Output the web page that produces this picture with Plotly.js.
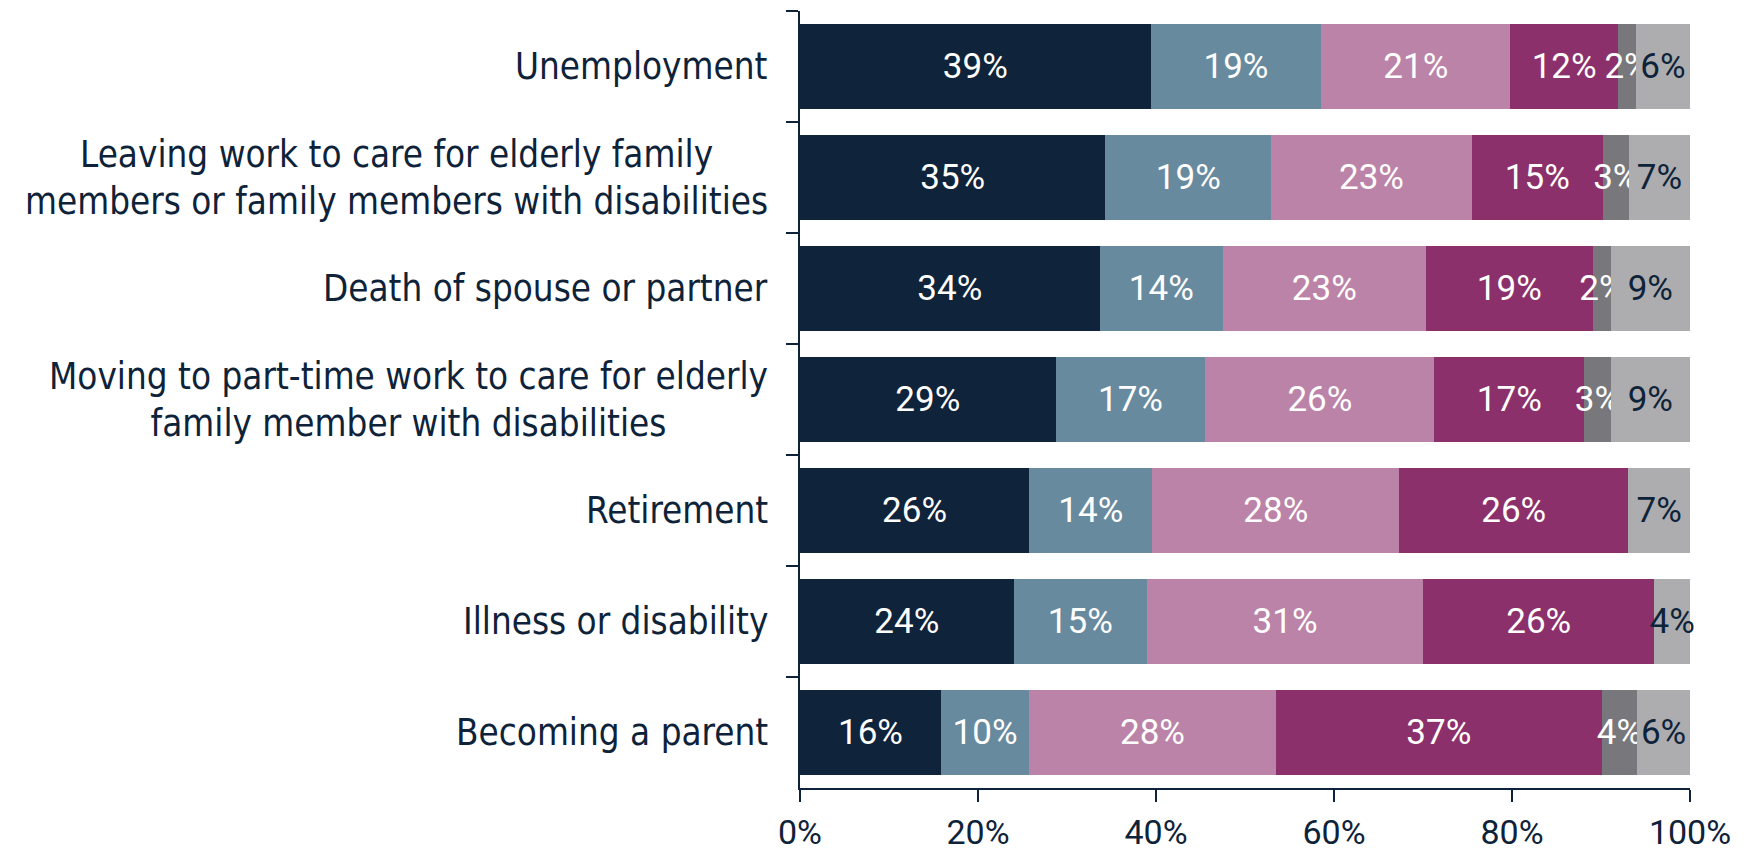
<!DOCTYPE html>
<html>
<head>
<meta charset="utf-8">
<script src="https://cdn.plot.ly/plotly-3.0.1.min.js"></script>
<style>html,body{margin:0;padding:0;background:#fff;}#chart{width:1746px;height:852px;}</style>
</head>
<body>
<div id="chart"></div>
<script>
// Categories, top to bottom
const categories = [
  "Unemployment",
  "Leaving work to care for elderly family<br>members or family members with disabilities",
  "Death of spouse or partner",
  "Moving to part-time work to care for elderly<br>family member with disabilities",
  "Retirement",
  "Illness or disability",
  "Becoming a parent"
];

// Series values (percent, as labelled; bars are normalised to 100%)
const series1 = [39, 35, 34, 29, 26, 24, 16];
const series2 = [19, 19, 14, 17, 14, 15, 10];
const series3 = [21, 23, 23, 26, 28, 31, 28];
const series4 = [12, 15, 19, 17, 26, 26, 37];
const series5 = [2, 3, 2, 3, 0, 0, 4];
const series6 = [6, 7, 9, 9, 7, 4, 6];

const xTickVals = [0, 20, 40, 60, 80, 100];
const xTickText = ["0%", "20%", "40%", "60%", "80%", "100%"];

const NAVY = "#0E2339";
const colors = ["#0F233A", "#688A9E", "#BB83A8", "#8C306B", "#78787C", "#ADADAF"];
const textColors = ["#FFFFFF", "#FFFFFF", "#FFFFFF", "#FFFFFF", "#FFFFFF", NAVY];
const allSeries = [series1, series2, series3, series4, series5, series6];
const seriesNames = ["Series 1", "Series 2", "Series 3", "Series 4", "Series 5", "Series 6"];

const NUM_FONT = "Roboto, 'DejaVu Sans Condensed', sans-serif";
const LABEL_FONT = "'DejaVu Sans Condensed', 'DejaVu Sans', sans-serif";

const traces = allSeries.map((vals, i) => ({
  type: "bar",
  orientation: "h",
  name: seriesNames[i],
  y: categories,
  x: vals,
  text: vals.map(v => v ? v + "%" : ""),
  textposition: "inside",
  insidetextanchor: "middle",
  textangle: 0,
  constraintext: "none",
  cliponaxis: false,
  textfont: {family: NUM_FONT, size: 35, color: textColors[i]},
  marker: {color: colors[i], line: {width: 0}},
  hoverinfo: "skip"
}));

const annotations = categories.map(c => ({
  xref: "paper", yref: "y",
  x: 0, y: c,
  xanchor: "right", yanchor: "middle",
  xshift: -30,
  align: "center",
  text: c,
  showarrow: false,
  font: {family: LABEL_FONT, size: 36.5, color: NAVY}
}));

const layout = {
  width: 1746, height: 852,
  margin: {l: 800, r: 56, t: 11, b: 64, pad: 0},
  paper_bgcolor: "#FFFFFF",
  plot_bgcolor: "#FFFFFF",
  barmode: "stack",
  barnorm: "percent",
  bargap: 0.23,
  showlegend: false,
  xaxis: {
    range: [0, 100.001],
    tickvals: xTickVals,
    ticktext: xTickText,
    ticks: "outside", ticklen: 12, tickwidth: 2, tickcolor: NAVY,
    showline: true, linewidth: 2, linecolor: NAVY,
    showgrid: false, zeroline: false,
    ticklabelstandoff: 1,
    tickfont: {family: NUM_FONT, size: 34, color: NAVY},
    fixedrange: true
  },
  yaxis: {
    type: "category",
    categoryorder: "array",
    categoryarray: categories,
    autorange: "reversed",
    tickson: "boundaries",
    ticks: "outside", ticklen: 12, tickwidth: 2, tickcolor: NAVY,
    showline: true, linewidth: 2, linecolor: NAVY,
    showgrid: false, zeroline: false,
    showticklabels: false,
    fixedrange: true
  },
  annotations: annotations,
  font: {family: LABEL_FONT, color: NAVY}
};

Plotly.newPlot("chart", traces, layout, {displayModeBar: false, staticPlot: true});
</script>
</body>
</html>
